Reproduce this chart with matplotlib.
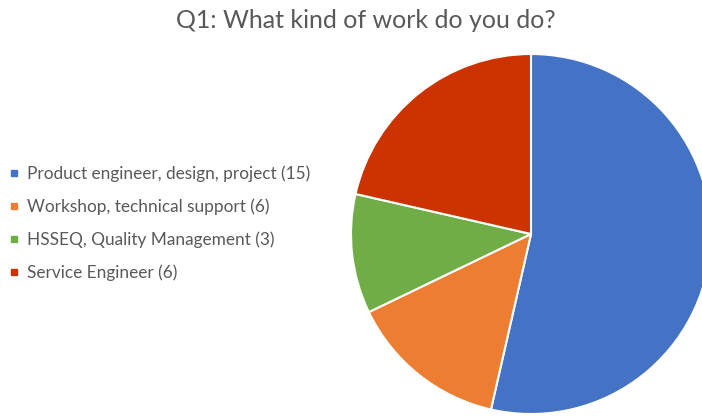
import matplotlib
matplotlib.use("Agg")
import matplotlib.pyplot as plt
from matplotlib.lines import Line2D

# survey answers, Q1
categories = [
    "Product engineer, design, project (15)",
    "Workshop, technical support (6)",
    "HSSEQ, Quality Management (3)",
    "Service Engineer (6)",
]
counts = [15, 4, 3, 6]
colors = ["#4472C4", "#ED7D31", "#70AD47", "#CC3300"]

TEXT_GREY = "#595959"
plt.rcParams["font.family"] = ["Lato", "DejaVu Sans"]

fig = plt.figure(figsize=(7.02, 4.16), dpi=100)
# pie centred at (531, 234) px, radius ~179 px
ax = fig.add_axes([(531 - 180) / 702, (416 - 234 - 180) / 416, 360 / 702, 360 / 416])
ax.pie(
    counts, colors=colors, startangle=90, counterclock=False, radius=1.0,
    wedgeprops=dict(edgecolor="white", linewidth=1.5),
)
ax.set_xlim(-1, 1)
ax.set_ylim(-1, 1)
for w in ax.patches:
    w.set_clip_on(False)

fig.text(366 / 702, 1 - 20 / 416, "Q1: What kind of work do you do?", ha="center", va="center",
         fontsize=18, color=TEXT_GREY)

handles = [Line2D([], [], marker="s", linestyle="none", markersize=5,
                  markerfacecolor=c, markeredgecolor=c) for c in colors]
fig.legend(handles, categories, loc="center left", bbox_to_anchor=(0.012, 1 - 223 / 416),
           frameon=False, fontsize=12.4, labelcolor=TEXT_GREY, handlelength=0.6,
           handletextpad=0.45, labelspacing=0.95, borderaxespad=0, borderpad=0)

fig.savefig("out.png", dpi=100)
